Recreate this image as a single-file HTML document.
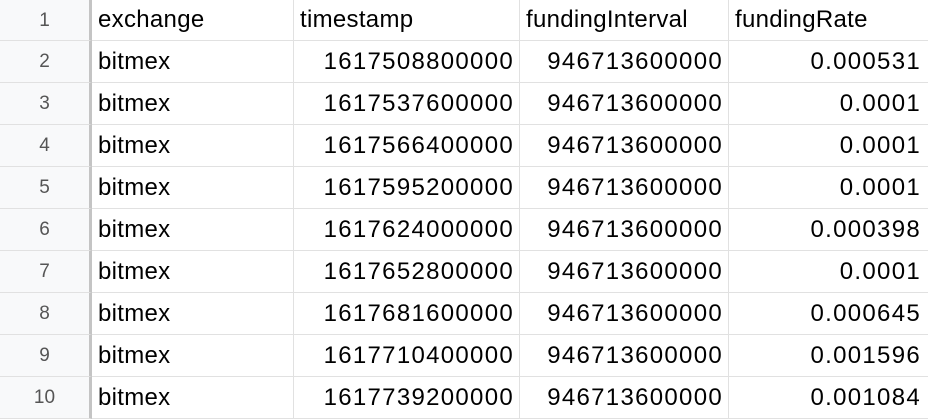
<!DOCTYPE html>
<html><head><meta charset="utf-8"><style>
body{margin:0;width:928px;height:420px;overflow:hidden;background:#fff;font-family:"Liberation Sans",Arial,sans-serif;}
.g{position:absolute;left:0;top:0;width:928px;height:420px;}
.c{position:absolute;box-sizing:border-box;border-right:1px solid #e1e1e1;border-bottom:1px solid #e1e1e1;font-size:24px;letter-spacing:0.3px;color:#000;line-height:1;display:flex;align-items:center;padding:0 6px;white-space:nowrap;overflow:hidden;}
.rh{background:#f8f9fa;color:#555;font-size:19px;justify-content:center;border-right:3px solid #c4c4c4;letter-spacing:0;}
.r{justify-content:flex-end;letter-spacing:1.3px;padding-right:5px;}
</style></head><body>
<div class="g" id="grid"></div>
<script>
const headers=["exchange","timestamp","fundingInterval","fundingRate"];
const exchanges=["bitmex","bitmex","bitmex","bitmex","bitmex","bitmex","bitmex","bitmex","bitmex"];
const timestamps=["1617508800000","1617537600000","1617566400000","1617595200000","1617624000000","1617652800000","1617681600000","1617710400000","1617739200000"];
const intervals=["946713600000","946713600000","946713600000","946713600000","946713600000","946713600000","946713600000","946713600000","946713600000"];
const rates=["0.000531","0.0001","0.0001","0.0001","0.000398","0.0001","0.000645","0.001596","0.001084"];
const colX=[0,92,294,520,729,928];
const g=document.getElementById('grid');
function cell(x0,x1,y,h,txt,cls,name,inter,last){
  const d=document.createElement('div');
  d.className='c '+cls;
  d.style.left=x0+'px';d.style.width=(x1-x0)+'px';d.style.top=y+'px';d.style.height=h+'px';
  if(last){d.style.borderRight='none';d.style.paddingRight='7px';}
  d.textContent=txt;
  
  
  g.appendChild(d);
}
for(let r=0;r<10;r++){
  const y=r===0?0:41+(r-1)*42;
  const h=r===0?41:42;
  cell(colX[0],colX[1],y,h,String(r+1),'rh','row-header-'+(r+1),'true',false);
  let vals, cls;
  if(r===0){vals=headers;cls=['','','',''];}
  else{const i=r-1;vals=[exchanges[i],timestamps[i],intervals[i],rates[i]];cls=['','r','r','r'];}
  for(let c=0;c<4;c++){
    cell(colX[c+1],colX[c+2],y,h,vals[c],cls[c],(r===0?'header-':'cell-')+headers[c].toLowerCase()+'-'+(r+1),'true',c===3);
  }
}
</script>
</body></html>
